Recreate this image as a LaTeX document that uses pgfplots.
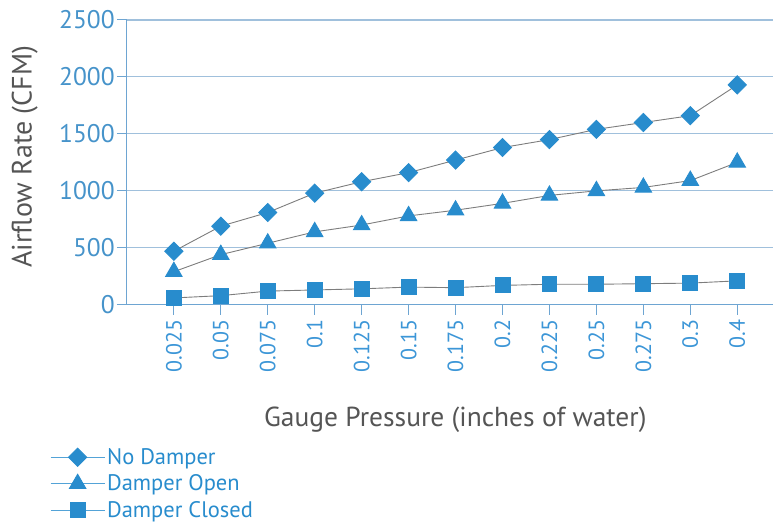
\documentclass[border=0pt]{standalone}
\usepackage{pgfplots}
\pgfplotsset{compat=1.18}
\usepackage{fontspec}
\setmainfont{PT Sans}

\definecolor{mblue}{RGB}{40,140,205}
\definecolor{tickblue}{RGB}{60,150,215}
\definecolor{axblue}{RGB}{110,165,210}
\definecolor{gridblue}{RGB}{160,192,220}
\definecolor{lgray}{RGB}{125,125,125}
\definecolor{labgray}{RGB}{85,85,85}

% airflow (CFM) at each gauge pressure, index 0..12
\pgfplotstableread{
idx nodamp open closed
0   470   290   60
1   690   440   80
2   810   540   120
3   980   640   130
4   1080  700   140
5   1160  780   155
6   1270  830   150
7   1380  890   170
8   1450  960   180
9   1540  1000  180
10  1600  1030  185
11  1660  1090  190
12  1930  1250  210
}\airflow

\begin{document}
\begin{tikzpicture}
\begin{axis}[
  scale only axis,
  width=647pt, height=285pt,
  xmin=-1, xmax=12.77,
  ymin=0, ymax=2500,
  ytick={0,500,...,2500},
  xtick={0,...,12},
  xticklabels={0.025,0.05,0.075,0.1,0.125,0.15,0.175,0.2,0.225,0.25,0.275,0.3,0.4},
  axis x line=bottom, axis y line=left,
  axis line style={draw=axblue, line width=1.2pt, -},
  ymajorgrids, grid style={draw=gridblue, line width=1.1pt},
  tick align=outside, major tick length=10pt,
  tick style={draw=axblue, line width=1pt},
  /pgf/number format/assume math mode=true,
  yticklabel style={font=\fontsize{25.5}{28}\selectfont, text=tickblue!85!gray,
    /pgf/number format/1000 sep={}, inner sep=2pt},
  xticklabel style={font=\fontsize{22}{25}\selectfont, text=tickblue,
    rotate=90, anchor=east, inner sep=5pt},
  xlabel={Gauge Pressure (inches of water)},
  ylabel={Airflow Rate (CFM)},
  xlabel style={font=\fontsize{27.5}{31}\selectfont, text=labgray,
    at={(axis description cs:0.508,-0.404)}, anchor=center},
  ylabel style={font=\fontsize{28}{32}\selectfont, text=labgray,
    at={(axis description cs:-0.158,0.52)}, anchor=center, rotate=0},
  legend style={at={(axis description cs:-0.119,-0.497)}, anchor=north west,
    draw=none, fill=none, font=\fontsize{22.5}{25}\selectfont, text=mblue,
    row sep=5pt, inner sep=0pt},
  legend cell align=left,
  legend image code/.code={
    \draw[draw=mblue!80, line width=1pt] (0pt,0pt) -- (54pt,0pt);
    \path[#1] plot coordinates {(27pt,0pt)};
  },
  every axis plot/.append style={draw=lgray, line width=0.9pt},
]
\addplot[mark=square*, mark size=6.4pt,
  mark options={rotate=45, draw=mblue, fill=mblue, solid}]
  table[x=idx, y=nodamp] {\airflow};
\addlegendentry{No Damper}
\addplot[mark=triangle*, mark size=9.5pt,
  mark options={draw=mblue, fill=mblue, solid}]
  table[x=idx, y=open] {\airflow};
\addlegendentry{Damper Open}
\addplot[mark=square*, mark size=7.5pt,
  mark options={draw=mblue, fill=mblue, solid}]
  table[x=idx, y=closed] {\airflow};
\addlegendentry{Damper Closed}
\end{axis}
\path (current axis.south west) ++(-127pt,-220pt) rectangle ++(774pt,525pt);
\end{tikzpicture}
\end{document}
